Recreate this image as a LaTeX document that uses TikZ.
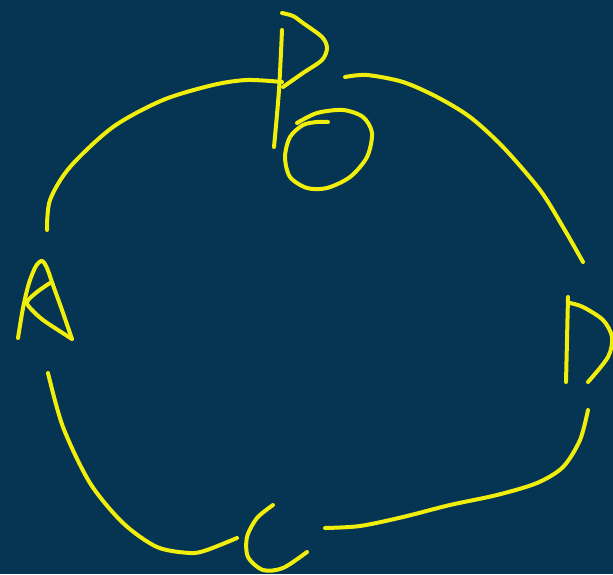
\documentclass[tikz,border=0pt]{standalone}
\definecolor{bgblue}{RGB}{5,53,82}
\definecolor{penyellow}{RGB}{240,238,10}
\tikzset{pen/.style={draw=penyellow,line width=4pt,line cap=round,line join=round}}
\begin{document}
\begin{tikzpicture}[x=1pt,y=-1pt]
\fill[bgblue] (0,0) rectangle (613,574);
\useasboundingbox (0,0) rectangle (613,574);
% P
\draw[pen] plot[smooth] coordinates {(282,30) (279,90) (274,147)};
\draw[pen] plot[smooth] coordinates {(282,13) (293,16) (303,23) (322,37) (327,48) (322,60) (303,73) (283,87)};
% O
\draw[pen] plot[smooth] coordinates {(297,123) (317,113) (343,110) (363,117) (372,133) (367,157) (350,177) (327,188) (307,188) (290,177) (285,157) (290,137) (303,125) (317,122) (328,122)};
% A
\draw[pen] plot[smooth] coordinates {(18,338) (23,308) (29,283) (36,266) (42,261) (47,268) (53,285) (62,310) (72,339)};
\draw[pen] plot[smooth] coordinates {(72,339) (58,330) (43,320) (32,310) (27,302) (37,292) (50,283)};
% D
\draw[pen] plot[smooth] coordinates {(568,297) (567,340) (566,382)};
\draw[pen] plot[smooth] coordinates {(570,303) (583,307) (603,320) (612,337) (608,357) (588,382)};
% C
\draw[pen] plot[smooth] coordinates {(273,505) (257,518) (247,537) (248,557) (263,570) (283,568) (307,552)};
% arcs
\draw[pen] plot[smooth] coordinates {(47,230) (50,200) (70,167) (113,127) (163,100) (213,85) (247,80) (282,82)};
\draw[pen] plot[smooth] coordinates {(345,77) (367,75) (403,82) (437,97) (470,117) (503,147) (540,190) (563,227) (583,262)};
\draw[pen] plot[smooth] coordinates {(48,373) (63,427) (90,483) (123,523) (157,547) (190,553) (207,550) (237,538)};
\draw[pen] plot[smooth] coordinates {(325,528) (360,526) (403,517) (450,505) (497,495) (537,483) (563,467) (580,440) (588,410)};
\end{tikzpicture}
\end{document}
